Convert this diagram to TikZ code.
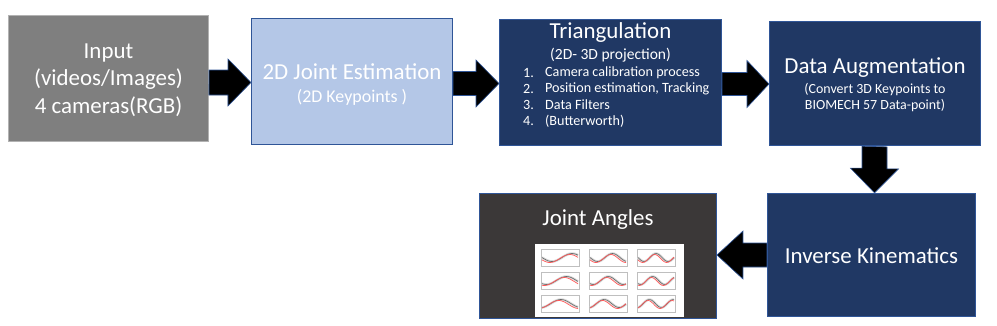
\documentclass[tikz,border=0pt]{standalone}
\usepackage{fontspec}
\setmainfont{Carlito}
\usetikzlibrary{positioning, calc}

\definecolor{edgeblue}{HTML}{2F5597}
\definecolor{navy}{HTML}{203864}
\definecolor{lightblue}{HTML}{B4C7E7}
\definecolor{midgray}{HTML}{7F7F7F}
\definecolor{darkgray}{HTML}{3B3838}

\begin{document}
\begin{tikzpicture}[x=1bp, y=-1bp,
    box/.style={draw=edgeblue, line width=0.8bp, inner sep=0pt, align=center, text=white},
    title/.style={text=white, font=\fontsize{23}{27.5}\selectfont, align=center, inner sep=0pt},
    sub/.style={text=white, font=\fontsize{14}{17}\selectfont, align=center, inner sep=0pt},
    item/.style={text=white, font=\fontsize{14.2}{16}\selectfont, anchor=west, inner sep=0pt},
    blockarrow/.style={fill=black, draw=edgeblue, line width=0.6bp, line join=miter},
    panel/.style={draw=black!25, line width=0.3bp}
]
    \useasboundingbox (0,0) rectangle (997,325);

    % boxes
    \node[box, fill=midgray, draw=black!30, minimum width=201, minimum height=127] (input) at (108.5,78.5) {};
    \node[box, fill=lightblue, minimum width=202, minimum height=127] (joint2d) at (352,81.5) {};
    \node[box, fill=navy, minimum width=223, minimum height=127] (triang) at (610.5,82.5) {};
    \node[box, fill=navy, minimum width=212, minimum height=125] (augment) at (875,83.5) {};
    \node[box, fill=navy, minimum width=209, minimum height=124] (ik) at (871.5,255) {};
    \node[box, fill=darkgray, minimum width=238, minimum height=126] (angles) at (598,256) {};

    % texts
    \node[title] at (108.5,80) {Input\\(videos/Images)\\4 cameras(RGB)};
    \node[title] (jtitle) at (352,72) {2D Joint Estimation};
    \node[sub, font=\fontsize{18}{20}\selectfont] at (352,97) {(2D Keypoints )};
    \node[title] at (610.5,33) {Triangulation};
    \node[sub, font=\fontsize{15.6}{18}\selectfont] at (610.5,55) {(2D- 3D projection)};
    \foreach \n/\t [count=\k] in {1./Camera calibration process, 2./Position estimation{,} Tracking, 3./Data Filters, 4./(Butterworth)} {
        \node[item] at (523,57+16*\k) {\n};
        \node[item] at (545,57+16*\k) {\t};
    }
    \node[title] at (875,68) {Data Augmentation};
    \node[sub] at (875,97.5) {(Convert 3D Keypoints to\\BIOMECH 57 Data-point)};
    \node[title] at (871.5,256) {Inverse Kinematics};
    \node[title] at (598,220) {Joint Angles};

    % plot thumbnail
    \node[fill=white, inner sep=0pt, minimum width=149, minimum height=73] (plots) at (609.5,280.5) {};
    \foreach \i in {0,1,2} {
        \foreach \j in {0,1,2} {
            \begin{scope}[shift={(541+48*\i,249+23*\j)}]
                \draw[panel] (0,0) rectangle (38,17);
                \draw[black!15, line width=2.5bp, domain=0:36, samples=25, smooth] plot ({\x+1}, {8.5+4*sin(\x*(9+3*\i)+50*\j)});
                \draw[black!60, line width=0.6bp, domain=0:36, samples=25, smooth] plot ({\x+1}, {8.5+4*sin(\x*(9+3*\i)+50*\j)});
                \draw[red!65, line width=0.7bp, domain=0:36, samples=25, smooth] plot ({\x+1}, {9.5+4*sin(\x*(9+3*\i)+50*\j+20)});
            \end{scope}
        }
    }

    % arrows
    \coordinate (a1) at ($(input.east)+(0,4)$);
    \draw[blockarrow] (a1) ++(0,-12.5) -- ++(19,0) -- ++(0,-11) -- (joint2d.west |- a1) -- ++(-23,23.5) -- ++(0,-11) -- ++(-19,0) -- cycle;
    \coordinate (a2) at ($(joint2d.east)+(0,2)$);
    \draw[blockarrow] (a2) ++(0,-12) -- ++(23,0) -- ++(0,-11.5) -- (triang.west |- a2) -- ++(-23,23.5) -- ++(0,-11.5) -- ++(-23,0) -- cycle;
    \coordinate (a3) at ($(triang.east)+(0,1.5)$);
    \draw[blockarrow] (a3) ++(0,-11.5) -- ++(25,0) -- ++(0,-12) -- (augment.west |- a3) -- ++(-22,23.5) -- ++(0,-12) -- ++(-25,0) -- cycle;
    \coordinate (a4) at ($(augment.south)+(-0.5,0)$);
    \draw[blockarrow] (a4) ++(-12.5,0) -- ++(0,22) -- ++(-11.5,0) -- (a4 |- ik.north) -- ++(24,-24) -- ++(-11.5,0) -- ++(0,-22) -- cycle;
    \coordinate (a5) at (ik.west);
    \draw[blockarrow] (a5) ++(0,-12) -- ++(-24,0) -- ++(0,-12) -- (angles.east |- a5) -- ++(26,24) -- ++(0,-12) -- ++(24,0) -- cycle;
\end{tikzpicture}
\end{document}
